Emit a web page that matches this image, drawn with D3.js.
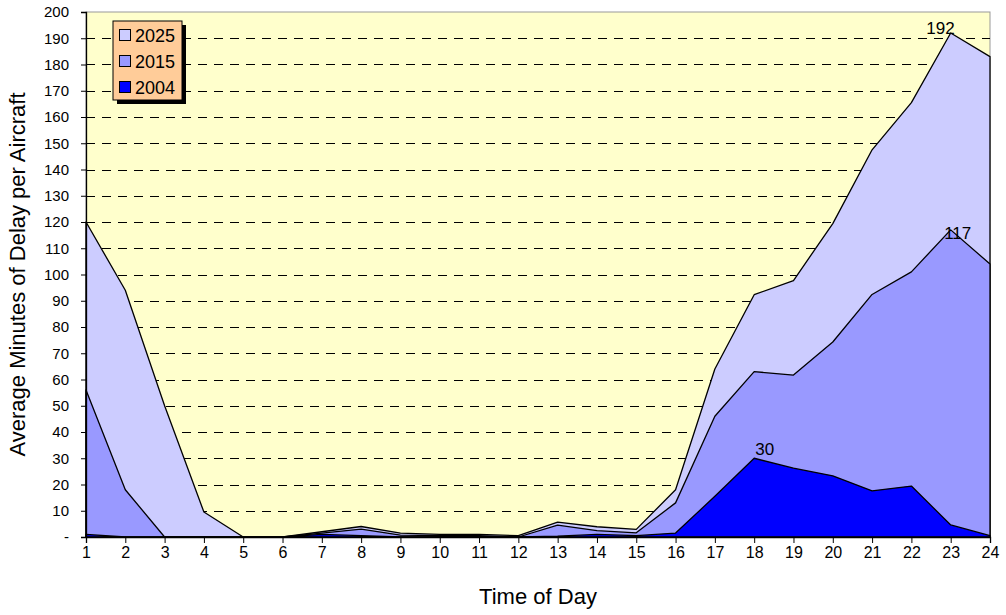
<!DOCTYPE html>
<html>
<head>
<meta charset="utf-8">
<script src="https://cdn.jsdelivr.net/npm/d3@7/dist/d3.min.js"></script>
<style>
  html, body { margin: 0; padding: 0; background: #ffffff; }
  svg { display: block; font-family: "Liberation Sans", Arial, sans-serif; }
</style>
</head>
<body>
<svg id="chart" width="1006" height="615"></svg>
<script>
// Hours of the day (x categories)
const hours = d3.range(1, 25);

// Average minutes of delay per aircraft, by forecast year
const delay2025 = [120, 94, 50, 9.5, 0, 0, 2, 4, 1.5, 1, 1, 0.5, 5.7, 3.9, 2.9, 18, 64, 92.3, 97.7, 119.4, 147.5, 165.5, 192, 183];
const delay2015 = [56, 18, 0, 0, 0, 0, 1.5, 3, 0.7, 0.5, 0.5, 0, 4.5, 2.4, 1.6, 13, 46, 63, 61.7, 74.3, 92.4, 101, 117, 104];
const delay2004 = [1, 0, 0, 0, 0, 0, 1, 0.5, 0, 0, 0, 0, 0.3, 1, 0.5, 1.5, 15.5, 30, 26.2, 23.3, 17.6, 19.4, 4.6, 0.5];

const seriesNames = ["2025", "2015", "2004"];
const seriesColors = ["#CCCCFF", "#9999FF", "#0000FF"];
const seriesValues = [delay2025, delay2015, delay2004];

// Y axis ticks (zero shown as a dash)
const yTicks = d3.range(0, 201, 10);

// Peak value labels: series index, hour, anchor and offset from the point
const peakLabels = [
  { s: 0, h: 23, anchor: "end",    dx: 4, dy: 1 },
  { s: 1, h: 23, anchor: "middle", dx: 7, dy: 9 },
  { s: 2, h: 18, anchor: "start",  dx: 1, dy: -3 }
];

const svg = d3.select("#chart");
const plot = { left: 86, right: 990, top: 12, bottom: 537 };

const x = d3.scaleLinear().domain([1, 24]).range([plot.left, plot.right]);
const y = d3.scaleLinear().domain([0, 200]).range([plot.bottom, plot.top]);

// Plot background
svg.append("rect")
  .attr("x", plot.left).attr("y", plot.top)
  .attr("width", plot.right - plot.left).attr("height", plot.bottom - plot.top)
  .attr("fill", "#FFFFCC")
  .attr("stroke", "#999999").attr("stroke-width", 1);

// Dashed horizontal gridlines
svg.append("g")
  .selectAll("line")
  .data(yTicks.filter(t => t > 0 && t < 200))
  .join("line")
  .attr("x1", plot.left).attr("x2", plot.right)
  .attr("y1", d => Math.round(y(d)) + 0.5).attr("y2", d => Math.round(y(d)) + 0.5)
  .attr("stroke", "#000000").attr("stroke-width", 1)
  .attr("stroke-dasharray", "9,7");

// Overlapping areas, largest series at the back
const area = d3.area()
  .x((d, i) => x(hours[i]))
  .y0(y(0))
  .y1(d => y(d));

svg.append("g")
  .selectAll("path")
  .data(seriesValues)
  .join("path")
  .attr("d", d => area(d))
  .attr("fill", (d, i) => seriesColors[i])
  .attr("stroke", "#000000")
  .attr("stroke-width", 1.3)
  .attr("stroke-linejoin", "round");

// Y axis
const yAxis = d3.axisLeft(y)
  .tickValues(yTicks)
  .tickSize(5)
  .tickFormat(d => d === 0 ? "-" : d);
const gy = svg.append("g")
  .attr("transform", `translate(${plot.left},0)`)
  .call(yAxis);
gy.select(".domain").attr("stroke", "#000000").attr("stroke-width", 1.3);
gy.selectAll(".tick line").attr("stroke", "#000000");
gy.selectAll(".tick text")
  .attr("font-size", 15).attr("fill", "#000000")
  .attr("font-family", "Liberation Sans, Arial, sans-serif")
  .attr("x", -17);

// X axis
const xAxis = d3.axisBottom(x)
  .tickValues(hours)
  .tickSize(6)
  .tickFormat(d3.format("d"));
const gx = svg.append("g")
  .attr("transform", `translate(0,${plot.bottom})`)
  .call(xAxis);
gx.select(".domain").attr("stroke", "#000000").attr("stroke-width", 1.3);
gx.selectAll(".tick line").attr("stroke", "#000000");
gx.selectAll(".tick text")
  .attr("font-size", 16).attr("fill", "#000000")
  .attr("font-family", "Liberation Sans, Arial, sans-serif")
  .attr("y", 10);

// Axis titles
svg.append("text")
  .attr("x", 538).attr("y", 604)
  .attr("text-anchor", "middle")
  .attr("font-size", 22).attr("fill", "#000000")
  .text("Time of Day");

svg.append("text")
  .attr("transform", `translate(25,${(plot.top + plot.bottom) / 2}) rotate(-90)`)
  .attr("text-anchor", "middle")
  .attr("font-size", 22).attr("fill", "#000000")
  .text("Average Minutes of Delay per Aircraft");

// Value labels at the peaks
svg.append("g")
  .selectAll("text")
  .data(peakLabels)
  .join("text")
  .attr("x", d => x(d.h) + d.dx)
  .attr("y", d => y(seriesValues[d.s][d.h - 1]) + d.dy)
  .attr("text-anchor", d => d.anchor)
  .attr("font-size", 17).attr("fill", "#000000")
  .text(d => d3.format("d")(seriesValues[d.s][d.h - 1]));

// Legend with drop shadow
const legend = svg.append("g").attr("transform", "translate(113,21)");
legend.append("rect")
  .attr("x", 4).attr("y", 4).attr("width", 69).attr("height", 79)
  .attr("fill", "#000000");
legend.append("rect")
  .attr("x", 0).attr("y", 0).attr("width", 69).attr("height", 79)
  .attr("fill", "#FFCC99").attr("stroke", "#000000").attr("stroke-width", 1);
const item = legend.selectAll("g.item")
  .data(seriesNames)
  .join("g")
  .attr("class", "item")
  .attr("transform", (d, i) => `translate(0,${14 + i * 26})`);
item.append("rect")
  .attr("x", 6.5).attr("y", -5.5).attr("width", 11).attr("height", 11)
  .attr("fill", (d, i) => seriesColors[i])
  .attr("stroke", "#000000").attr("stroke-width", 1);
item.append("text")
  .attr("x", 22).attr("y", 7)
  .attr("font-size", 18).attr("fill", "#000000")
  .text(d => d);
</script>
</body>
</html>
